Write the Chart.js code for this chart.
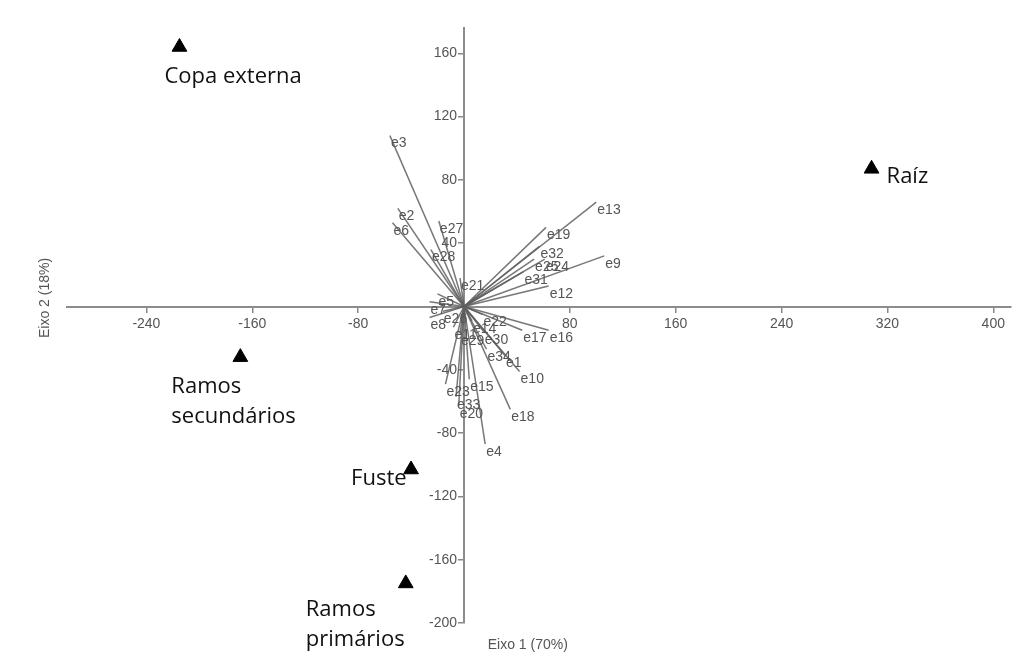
<!DOCTYPE html>
<html>
<head>
<meta charset="utf-8">
<script src="https://cdn.jsdelivr.net/npm/chart.js@4/dist/chart.umd.min.js"></script>
<style>
    html, body { margin: 0; padding: 0; background: #fff; }
    #wrap { width: 1020px; height: 664px; }
</style>
</head>
<body>
<div id="wrap"><canvas id="chartCanvas" width="1020" height="664"></canvas></div>
<script>
// site scores (triangles)
const siteNames = [["Copa externa"], ["Raíz"], ["Ramos", "secundários"], ["Fuste"], ["Ramos", "primários"]];
const siteX = [-215, 308, -169, -40, -44];
const siteY = [164, 87, -32, -103, -175];

// species vectors e1..e34
const speciesNames = ["e1", "e2", "e3", "e4", "e5", "e6", "e7", "e8", "e9", "e10",
    "e11", "e12", "e13", "e14", "e15", "e16", "e17", "e18", "e19", "e20",
    "e21", "e22", "e23", "e24", "e25", "e26", "e27", "e28", "e29", "e30",
    "e31", "e32", "e33", "e34"];
const speciesX = [31, -50, -56, 16, -20, -54, -26, -26, 106, 42,
    -8, 64, 100, 6, 4, 64, 44, 35, 62, -4,
    -3, 14, -14, 61, 53, -16, -19, -25, -3, 15,
    45, 57, -6, 17];
const speciesY = [-31, 62, 108, -87, 8, 53, 3, -7, 32, -41,
    -13, 13, 66, -9, -46, -15, -15, -65, 50, -63,
    18, -5, -49, 30, 30, -3, 54, 36, -17, -16,
    22, 38, -57, -27];

const xTicks = [-240, -160, -80, 80, 160, 240, 320, 400];
const yTicks = [-200, -160, -120, -80, -40, 40, 80, 120, 160];

// label offsets for the site names, in pixels
const siteLabelOffsets = [[-15, 30], [15, 8], [-69, 30], [-60, 9], [-100, 26]];

const tickFont = '14px "Liberation Sans", Arial, sans-serif';

const labelPlugin = {
    id: "labels",
    afterDatasetsDraw(chart) {
        const { ctx, chartArea } = chart;
        const x = chart.scales.x;
        const y = chart.scales.y;
        const x0 = x.getPixelForValue(0);
        ctx.save();

        // y tick labels, left of the crossing axis
        ctx.font = tickFont;
        ctx.fillStyle = "#555";
        ctx.textAlign = "right";
        ctx.textBaseline = "middle";
        yTicks.forEach(v => {
            ctx.fillText(String(v), x0 - 7, y.getPixelForValue(v));
        });

        ctx.font = '14px "Liberation Sans", Arial, sans-serif';
        ctx.fillStyle = "#555";
        ctx.textAlign = "left";
        ctx.textBaseline = "top";
        speciesNames.forEach((name, i) => {
            ctx.fillText(name, x.getPixelForValue(speciesX[i]) + 1, y.getPixelForValue(speciesY[i]) + 1);
        });

        ctx.font = '22px "Open Sans", Lato, sans-serif';
        ctx.fillStyle = "#111";
        ctx.textBaseline = "middle";
        siteNames.forEach((lines, i) => {
            const px = x.getPixelForValue(siteX[i]) + siteLabelOffsets[i][0];
            let py = y.getPixelForValue(siteY[i]) + siteLabelOffsets[i][1];
            lines.forEach(t => {
                ctx.fillText(t, px, py);
                py += 30;
            });
        });

        // axis titles
        ctx.font = '14px "Liberation Sans", Arial, sans-serif';
        ctx.fillStyle = "#555";
        ctx.textAlign = "center";
        ctx.fillText("Eixo 1 (70%)", (chartArea.left + chartArea.right) / 2 - 11, chartArea.bottom + 22);
        ctx.translate(45, 298);
        ctx.rotate(-Math.PI / 2);
        ctx.fillText("Eixo 2 (18%)", 0, 0);

        ctx.restore();
    }
};

const vectorSets = speciesNames.map((name, i) => ({
    label: name,
    data: [{ x: 0, y: 0 }, { x: speciesX[i], y: speciesY[i] }],
    showLine: true,
    borderColor: "rgba(95, 95, 95, 0.85)",
    borderWidth: 1.5,
    pointRadius: 0
}));

const siteSet = {
    label: "sites",
    data: siteX.map((v, i) => ({ x: v, y: siteY[i] })),
    pointStyle: "triangle",
    pointRadius: 8.5,
    backgroundColor: "#000",
    borderColor: "#000",
    borderWidth: 1
};

function axisStyle(showTicks) {
    return {
        grid: { drawOnChartArea: false, drawTicks: true, tickLength: 5, color: "#888", lineWidth: 1.5 },
        border: { color: "#8c8c8c", width: 2 },
        ticks: { display: showTicks, font: { size: 14, family: '"Liberation Sans", Arial, sans-serif' }, color: "#555", padding: 4 }
    };
}

new Chart(document.getElementById("chartCanvas").getContext("2d"), {
    type: "scatter",
    data: { datasets: vectorSets.concat([siteSet]) },
    options: {
        responsive: false,
        animation: false,
        devicePixelRatio: 1,
        layout: { padding: { left: 67, right: 5, top: 28, bottom: 41 } },
        plugins: { legend: { display: false }, tooltip: { enabled: false } },
        scales: {
            x: Object.assign({
                type: "linear",
                min: -300,
                max: 413,
                position: { y: 0 },
                afterBuildTicks: s => { s.ticks = xTicks.map(v => ({ value: v })); }
            }, axisStyle(true)),
            y: Object.assign({
                type: "linear",
                min: -200,
                max: 176,
                position: { x: 0 },
                afterBuildTicks: s => { s.ticks = yTicks.map(v => ({ value: v })); }
            }, axisStyle(false))
        }
    },
    plugins: [labelPlugin]
});
</script>
</body>
</html>
